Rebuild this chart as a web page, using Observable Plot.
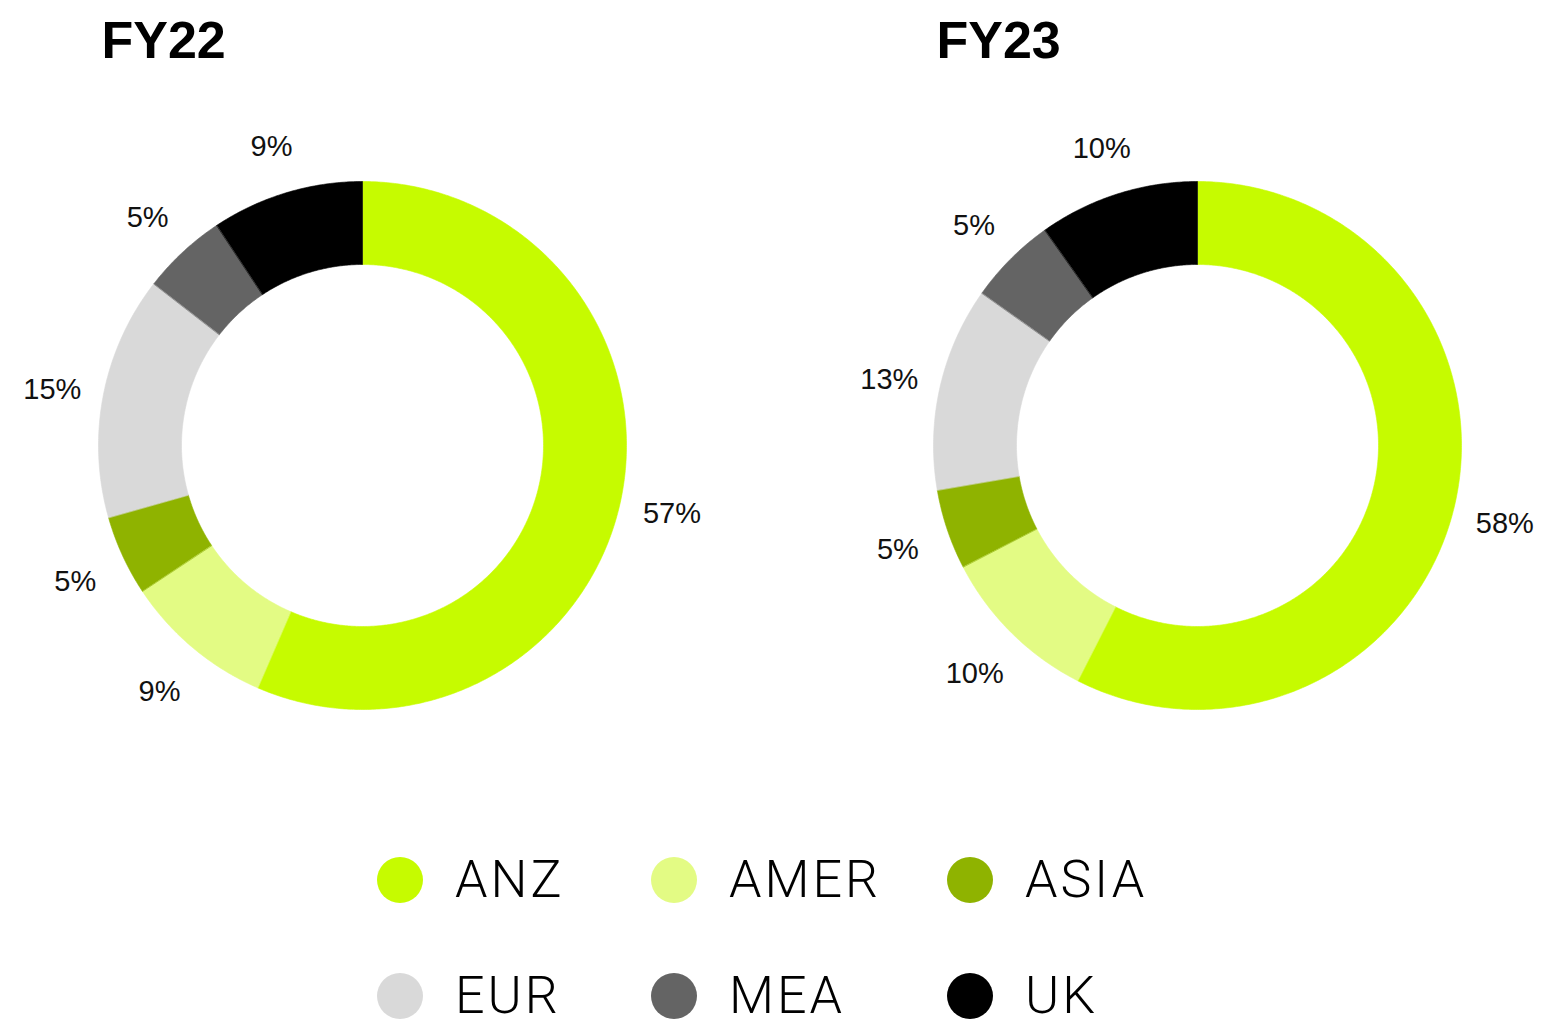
<!DOCTYPE html>
<html>
<head>
<meta charset="utf-8">
<script src="https://cdn.jsdelivr.net/npm/d3@7"></script>
<script src="https://cdn.jsdelivr.net/npm/@observablehq/plot@0.6"></script>
<style>
  html, body { margin: 0; padding: 0; background: #fff; }
  #wrap { width: 1542px; height: 1024px; position: relative; }
  #legend {
    position: absolute; left: 377px; top: 854px;
    display: grid; grid-template-columns: 274px 296px 260px; grid-auto-rows: 52px; row-gap: 64px;
    font-family: Roboto, "Liberation Sans", sans-serif; font-weight: 300; font-size: 52px; color: #000;
    line-height: 1;
  }
  .item { display: flex; align-items: center; height: 52px; }
  .sw { width: 46px; height: 46px; border-radius: 50%; margin-right: 32px; flex: none; }
  .lt { letter-spacing: 3px; line-height: 1; }
</style>
</head>
<body>
<div id="wrap"><div id="chart"></div><div id="legend"></div></div>
<script>
const years = ["FY22", "FY23"];
const regions = ["ANZ", "AMER", "ASIA", "EUR", "MEA", "UK"];
const colors = ["#c6fb00", "#e3fb84", "#8fb300", "#d9d9d9", "#646464", "#000000"];
const fy22Values = [56.5, 9.2, 4.9, 14.9, 5.2, 9.3];
const fy23Values = [57.5, 9.9, 4.9, 12.5, 5.4, 9.8];
const fy22Labels = ["57%", "9%", "5%", "15%", "5%", "9%"];
const fy23Labels = ["58%", "10%", "5%", "13%", "5%", "10%"];

const series = {FY22: {values: fy22Values, labels: fy22Labels}, FY23: {values: fy23Values, labels: fy23Labels}};
const R_OUT = 264, R_IN = 181, R_LABEL = 316;

const arcPts = [];
const labelRows = [];
for (const year of years) {
  const {values, labels} = series[year];
  const total = d3.sum(values);
  let acc = 0;
  values.forEach((v, i) => {
    const a0 = acc / total * 2 * Math.PI;
    acc += v;
    const a1 = acc / total * 2 * Math.PI;
    const n = Math.max(2, Math.ceil((a1 - a0) / (Math.PI / 360)));
    const key = year + "-" + regions[i];
    for (let k = 0; k <= n; k++) {
      const a = a0 + (a1 - a0) * k / n;
      arcPts.push({year, region: regions[i], key, x: R_OUT * Math.sin(a), y: R_OUT * Math.cos(a)});
    }
    for (let k = n; k >= 0; k--) {
      const a = a0 + (a1 - a0) * k / n;
      arcPts.push({year, region: regions[i], key, x: R_IN * Math.sin(a), y: R_IN * Math.cos(a)});
    }
    const am = (a0 + a1) / 2;
    labelRows.push({year, region: regions[i], label: labels[i], x: R_LABEL * Math.sin(am), y: R_LABEL * Math.cos(am)});
  });
}

const chart = Plot.plot({
  width: 1542,
  height: 780,
  marginLeft: 32,
  marginRight: 15,
  marginTop: 110,
  marginBottom: 0,
  style: {fontFamily: "'Liberation Sans', Arial, sans-serif", background: "#fff", color: "#000"},
  fx: {domain: years, paddingInner: 0.2096, paddingOuter: 0, axis: null, label: null},
  x: {domain: [-330, 330], axis: null},
  y: {domain: [-335, 335], axis: null},
  color: {domain: regions, range: colors},
  marks: [
    Plot.line(arcPts, {fx: "year", x: "x", y: "y", z: "key", fill: "region", stroke: "region", strokeWidth: 0.6, curve: "linear-closed"}),
    Plot.text(labelRows, {fx: "year", x: "x", y: "y", text: "label", fontSize: 29, fill: "#111", textAnchor: "middle", lineAnchor: "middle", dy: 4}),
    Plot.text(years, {fx: d => d, text: d => d, frameAnchor: "top", textAnchor: "start", lineAnchor: "bottom", dx: -261, dy: -53, fontSize: 52, fontWeight: "bold", fill: "#000"})
  ]
});
document.getElementById("chart").appendChild(chart);

const legend = document.getElementById("legend");
regions.forEach((r, i) => {
  const it = document.createElement("div");
  it.className = "item";
  const sw = document.createElement("span");
  sw.className = "sw";
  sw.style.background = colors[i];
  const t = document.createElement("span");
  t.className = "lt";
  t.textContent = r;
  it.appendChild(sw); it.appendChild(t);
  legend.appendChild(it);
});
</script>
</body>
</html>
